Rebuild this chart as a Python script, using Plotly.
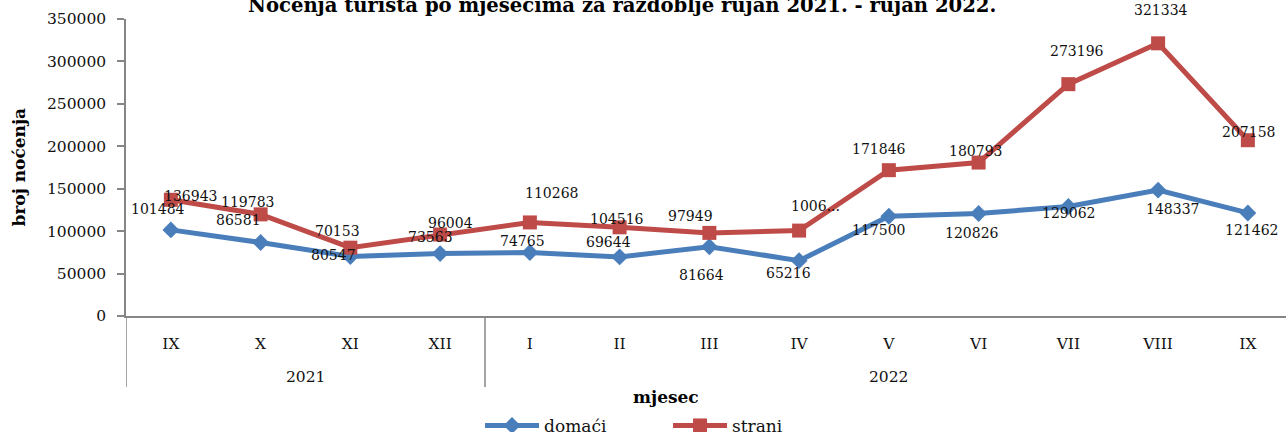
import plotly.graph_objects as go

# ---- data ----
months = ["IX", "X", "XI", "XII", "I", "II", "III", "IV", "V", "VI", "VII", "VIII", "IX"]
years = ["2021"] * 4 + ["2022"] * 9
domaci = [101484, 86581, 70153, 73563, 74765, 69644, 81664, 65216, 117500, 120826, 129062, 148337, 121462]
strani = [136943, 119783, 80547, 96004, 110268, 104516, 97949, 100650, 171846, 180793, 273196, 321334, 207158]

domaci_labels = [str(v) for v in domaci]
strani_labels = [str(v) for v in strani]
strani_labels[7] = "1006..."  # truncated in the original chart

# ---- label offsets (pixels, screen: +dx right, +dy down) ----
dom_dx = [-13, -22, -13, -10, -7, -11, -8, -11, -10, -7, 0, 14, 4]
dom_dy = [-21, -23, -25, -17, -12, -15, 28, 12, 14, 20, 7, 19, 17]
str_dx = [20, -13, -17, 10, 22, -3, -19, 16, -10, -3, 9, 3, 1]
str_dy = [-4, -12, 7, -12, -29, -8, -17, -25, -21, -12, -33, -33, -8]

BLUE = "#4A7EBB"
RED = "#BE4B48"
AXIS = "#868686"
FONT = "DejaVu Serif"

idx = list(range(len(months)))

fig = go.Figure()
fig.add_trace(go.Scatter(
    x=idx, y=domaci, mode="lines+markers", name="domaći",
    line=dict(color=BLUE, width=5),
    marker=dict(symbol="diamond", size=13, color=BLUE),
    cliponaxis=False, hoverinfo="skip"))
fig.add_trace(go.Scatter(
    x=idx, y=strani, mode="lines+markers", name="strani",
    line=dict(color=RED, width=5),
    marker=dict(symbol="square", size=14, color=RED),
    cliponaxis=False, hoverinfo="skip"))

annotations = []
for vals, labs, dxs, dys in ((domaci, domaci_labels, dom_dx, dom_dy),
                             (strani, strani_labels, str_dx, str_dy)):
    for i, (v, t, dx, dy) in enumerate(zip(vals, labs, dxs, dys)):
        annotations.append(dict(
            x=i, y=v, xref="x", yref="y", text=t, showarrow=False,
            xanchor="center", yanchor="middle", xshift=dx, yshift=-dy,
            font=dict(family=FONT, size=14, color="#111")))

# year group labels and dividers
shapes = []
groups = []
for i, yv in enumerate(years):
    if not groups or groups[-1][0] != yv:
        groups.append([yv, i, i])
    else:
        groups[-1][2] = i
for yv, a, b in groups:
    annotations.append(dict(
        x=(a + b) / 2 if yv != years[-1] else (a + len(months) - 1) / 2,
        y=-0.2064, xref="x", yref="paper", text=yv, showarrow=False,
        xanchor="center", yanchor="middle",
        font=dict(family=FONT, size=15.5, color="#111")))
    shapes.append(dict(type="line", xref="x", yref="paper",
                       x0=a - 0.5, x1=a - 0.5, y0=0, y1=-0.239,
                       line=dict(color=AXIS, width=1.5)))

# title and axis titles
annotations.append(dict(
    x=(621.5 - 126) / 1160, y=1.047, xref="paper", yref="paper",
    text="<b>Noćenja turista po mjesecima za razdoblje rujan 2021. - rujan 2022.</b>",
    showarrow=False, xanchor="center", yanchor="middle",
    font=dict(family=FONT, size=19.6, color="#000")))
annotations.append(dict(
    x=-0.0931, y=0.5, xref="paper", yref="paper", text="<b>broj noćenja</b>",
    textangle=-90, showarrow=False, xanchor="center", yanchor="middle",
    font=dict(family=FONT, size=17, color="#000")))
annotations.append(dict(
    x=0.4651, y=-0.2717, xref="paper", yref="paper", text="<b>mjesec</b>",
    showarrow=False, xanchor="center", yanchor="middle",
    font=dict(family=FONT, size=17, color="#000")))

fig.update_layout(
    width=1286, height=432, autosize=False,
    margin=dict(l=126, r=0, t=19, b=116, pad=0, autoexpand=False),
    paper_bgcolor="white", plot_bgcolor="white",
    xaxis=dict(range=[-0.5, 12.425], tickvals=idx, ticktext=months,
               automargin=False,
               showline=True, linecolor=AXIS, linewidth=1.5,
               showgrid=False, zeroline=False, ticks="",
               ticklabelstandoff=13,
               tickfont=dict(family=FONT, size=15.5, color="#111")),
    yaxis=dict(range=[0, 350000], dtick=50000, tickformat="d",
               automargin=False,
               showline=True, linecolor=AXIS, linewidth=1.5,
               showgrid=False, zeroline=False,
               ticks="outside", ticklen=7, tickcolor=AXIS, tickwidth=1.5,
               ticklabelstandoff=8,
               tickfont=dict(family=FONT, size=15.5, color="#111")),
    legend=dict(orientation="h", x=0.3052, xanchor="left",
                y=-0.37, yanchor="middle",
                itemwidth=54, entrywidth=119, entrywidthmode="pixels",
                font=dict(family=FONT, size=17, color="#111"),
                bgcolor="rgba(0,0,0,0)"),
    annotations=annotations,
    shapes=shapes,
    showlegend=True,
)

fig.write_html(
    "out.html",
    config={"displayModeBar": False},
    post_script="document.body.style.margin='0';document.body.style.overflow='hidden';",
)
